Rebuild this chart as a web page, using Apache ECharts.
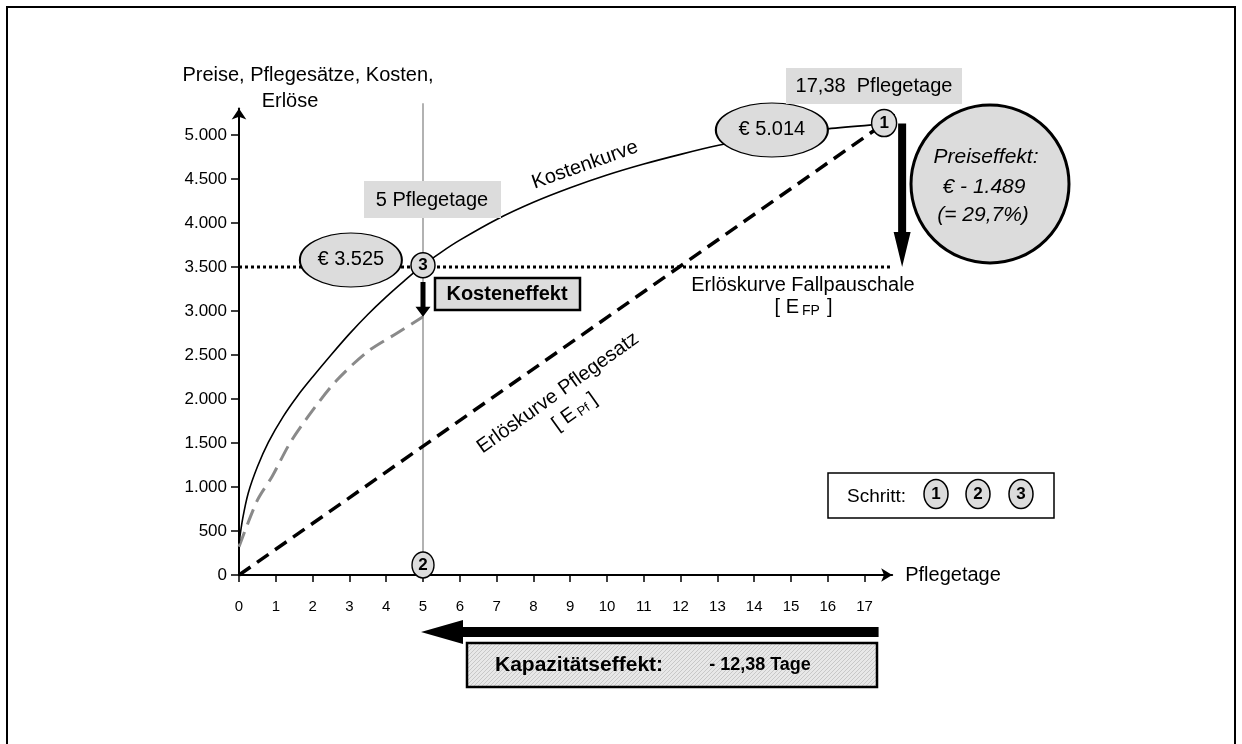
<!DOCTYPE html>
<html><head><meta charset="utf-8">
<script src="https://cdn.jsdelivr.net/npm/echarts@6/dist/echarts.min.js"></script>
<style>html,body{margin:0;padding:0;background:#fff}#c{width:1242px;height:744px}</style>
</head><body><div id="c"></div>
<script>
// ---- data ----
const xTicks = [0,1,2,3,4,5,6,7,8,9,10,11,12,13,14,15,16,17];
const yTicks = [0,500,1000,1500,2000,2500,3000,3500,4000,4500,5000];
const kostenDays   = [0, 0.1, 0.25, 0.5, 0.8, 1.2, 1.6, 2.0, 2.5, 3.0, 3.5, 4.0, 4.5, 5.0, 5.5, 6.0, 7.0, 8.0, 9.0, 10.0, 11.0, 12.0, 13.0, 14.0, 15.0, 16.0, 17.2];
const kostenValues = [360, 640, 930, 1230, 1510, 1800, 2040, 2250, 2500, 2740, 2960, 3160, 3345, 3520, 3670, 3805, 4040, 4235, 4400, 4545, 4670, 4780, 4880, 4960, 5020, 5070, 5115];
const kostenNeuDays   = [0, 0.5, 0.9, 1.4, 2.0, 2.65, 3.5, 4.3, 5.0];
const kostenNeuValues = [320, 850, 1120, 1510, 1870, 2210, 2540, 2750, 2935];
const erloesPfDays   = [0, 18.3];
const erloesPfValues = [0, 5356];
const fallpauschaleValue = 3500;
const fallpauschaleDays = [0, 17.75];
const pflegetageLineDay = 5;
const pflegetageLineValues = [0, 5360];
const schrittLabels = ['1', '2', '3'];
const schrittDays   = [17.53, 5, 5];
const schrittValues = [5136, 114, 3520];
const ellipseLabels = ['€ 3.525', '€ 5.014'];
const ellipseDays   = [3.04, 14.48];
const ellipseValues = [3580, 5057];

// ---- helpers ----
const FONT = "'Liberation Sans', Arial, Helvetica, sans-serif";
const fmt = v => String(v).replace(/\B(?=(\d{3})+(?!\d))/g, '.');
const zip = (a, b) => a.map((v, i) => [v, b[i]]);
const GREY = '#dcdcdc';

const chart = echarts.init(document.getElementById('c'), null, {renderer: 'canvas'});

// hatch pattern
const pc = document.createElement('canvas');
pc.width = 4; pc.height = 4;
const pctx = pc.getContext('2d');
pctx.fillStyle = '#e8e8e8'; pctx.fillRect(0, 0, 4, 4);
pctx.strokeStyle = '#c8c8c8'; pctx.lineWidth = 1;
pctx.beginPath(); pctx.moveTo(0, 4); pctx.lineTo(4, 0); pctx.stroke();

const option = {
  animation: false,
  backgroundColor: '#fff',
  grid: {left: 239, right: 349.8, top: 108.6, bottom: 169, containLabel: false},
  xAxis: {
    type: 'value', min: 0, max: 17.75,
    axisLine: {show: true, lineStyle: {color: '#000', width: 2}, symbol: ['none', 'arrow'], symbolSize: [10, 11]},
    axisTick: {show: true, length: 7, lineStyle: {color: '#000', width: 1.5}, customValues: xTicks},
    axisLabel: {show: true, margin: 24, fontSize: 15, color: '#000', fontFamily: FONT, customValues: xTicks},
    splitLine: {show: false},
    name: 'Pflegetage', nameLocation: 'end', nameGap: 13,
    nameTextStyle: {fontSize: 20, color: '#000', fontFamily: FONT, align: 'left', verticalAlign: 'middle'}
  },
  yAxis: {
    type: 'value', min: 0, max: 5300,
    axisLine: {show: true, lineStyle: {color: '#000', width: 2}, symbol: ['none', 'arrow'], symbolSize: [11, 11]},
    axisTick: {show: true, length: 8, lineStyle: {color: '#000', width: 1.5}, customValues: yTicks},
    axisLabel: {show: true, margin: 12, fontSize: 17, color: '#000', fontFamily: FONT, customValues: yTicks, formatter: v => fmt(v)},
    splitLine: {show: false}
  },
  series: [
    {name: 'Pflegetage-Linie', type: 'line', data: pflegetageLineValues.map(v => [pflegetageLineDay, v]), symbol: 'none', clip: false,
      lineStyle: {color: '#999', width: 1.5}, z: 1},
    {name: 'Fallpauschale', type: 'line', data: fallpauschaleDays.map(d => [d, fallpauschaleValue]), symbol: 'none',
      lineStyle: {color: '#000', width: 3, type: [3, 3]}, z: 2},
    {name: 'Erlöskurve Pflegesatz', type: 'line', data: zip(erloesPfDays, erloesPfValues), symbol: 'none', clip: false,
      lineStyle: {color: '#000', width: 3.5, type: [14, 8]}, z: 2},
    {name: 'Kosten neu', type: 'line', data: zip(kostenNeuDays, kostenNeuValues), symbol: 'none', smooth: 0.3,
      lineStyle: {color: '#8a8a8a', width: 3, type: [16, 8]}, z: 2},
    {name: 'Kostenkurve', type: 'line', data: zip(kostenDays, kostenValues), symbol: 'none', smooth: 0.3,
      lineStyle: {color: '#000', width: 1.6}, z: 3},
    {name: 'Werte', type: 'scatter', z: 5, symbol: 'circle',
      data: ellipseLabels.map((l, i) => ({value: [ellipseDays[i], ellipseValues[i]], name: l, symbolSize: i === 0 ? [102, 54] : [112, 54]})),
      itemStyle: {color: GREY, borderColor: '#000', borderWidth: 1.5, opacity: 1},
      label: {show: true, position: 'inside', formatter: p => p.name, color: '#000', fontSize: 20, fontFamily: FONT}},
    {name: 'Schritte', type: 'scatter', z: 6, symbol: 'circle',
      data: schrittLabels.map((l, i) => ({value: [schrittDays[i], schrittValues[i]], name: l, symbolSize: i === 0 ? [25, 27] : (i === 1 ? [22, 26] : [24, 25])})),
      itemStyle: {color: GREY, borderColor: '#000', borderWidth: 1.5, opacity: 1},
      label: {show: true, position: 'inside', formatter: p => p.name, color: '#000', fontSize: 17, fontWeight: 'bold', fontFamily: FONT}}
  ]
};
chart.setOption(option);

const P = (d, v) => chart.convertToPixel({gridIndex: 0}, [d, v]);

function downArrow(x, y1, y2, sw, hw, hl) {
  return [[x - sw/2, y1], [x + sw/2, y1], [x + sw/2, y2 - hl], [x + hw/2, y2 - hl], [x, y2], [x - hw/2, y2 - hl], [x - sw/2, y2 - hl]];
}
function leftArrow(xR, xT, y, sw, hh, hl) {
  return [[xR, y - sw/2], [xR, y + sw/2], [xT + hl, y + sw/2], [xT + hl, y + hh/2], [xT, y], [xT + hl, y - hh/2], [xT + hl, y - sw/2]];
}
const txt = (x, y, text, extra, z, rotation) => ({type: 'text', x, y, z: z || 100, rotation: rotation || 0,
  style: Object.assign({text, fill: '#000', font: '20px ' + FONT, align: 'center', verticalAlign: 'middle'}, extra || {})});

const k1 = P(5, 3330), k2 = P(5, 2935);
const p1 = P(18.02, 5130), p2 = P(18.02, 3500);
const c1 = P(17.38, 0), c2 = P(5, 0);

const graphic = [
  {type: 'rect', z: 0, shape: {x: 7, y: 7, width: 1228, height: 800}, style: {fill: 'none', stroke: '#000', lineWidth: 2}},
  txt(308, 75, 'Preise, Pflegesätze, Kosten,'),
  txt(290, 101, 'Erlöse'),
  // 5 Pflegetage
  {type: 'rect', z: 90, shape: {x: 364, y: 181, width: 137, height: 37}, style: {fill: GREY}},
  txt(432, 200, '5 Pflegetage'),
  // 17,38 Pflegetage
  {type: 'rect', z: 90, shape: {x: 786, y: 68, width: 176, height: 36}, style: {fill: GREY}},
  txt(874, 86, '17,38  Pflegetage'),
  // Kostenkurve label
  txt(585, 165, 'Kostenkurve', {font: '20px ' + FONT}, 100, 0.34),
  // Erlöskurve Pflegesatz
  {type: 'group', x: 558, y: 393, rotation: 0.62, z: 100, children: [
    {type: 'text', x: 0, y: 0, z: 100, style: {text: 'Erlöskurve Pflegesatz', fill: '#000', font: '20px ' + FONT, align: 'center', verticalAlign: 'middle'}},
    {type: 'text', x: 2, y: 25, z: 100, style: {text: '[ E', fill: '#000', font: '20px ' + FONT, align: 'right', verticalAlign: 'middle'}},
    {type: 'text', x: 5, y: 29, z: 100, style: {text: 'Pf', fill: '#000', font: '13px ' + FONT, align: 'left', verticalAlign: 'middle'}},
    {type: 'text', x: 22, y: 25, z: 100, style: {text: ']', fill: '#000', font: '20px ' + FONT, align: 'left', verticalAlign: 'middle'}}
  ]},
  // Erlöskurve Fallpauschale
  txt(803, 285, 'Erlöskurve Fallpauschale'),
  {type: 'group', x: 805, y: 307, z: 100, children: [
    {type: 'text', x: -6, y: 0, z: 100, style: {text: '[ E', fill: '#000', font: '20px ' + FONT, align: 'right', verticalAlign: 'middle'}},
    {type: 'text', x: -3, y: 4, z: 100, style: {text: 'FP', fill: '#000', font: '14px ' + FONT, align: 'left', verticalAlign: 'middle'}},
    {type: 'text', x: 22, y: 0, z: 100, style: {text: ']', fill: '#000', font: '20px ' + FONT, align: 'left', verticalAlign: 'middle'}}
  ]},
  // Kosteneffekt
  {type: 'polygon', z: 100, shape: {points: downArrow(k1[0], k1[1], k2[1], 5, 15, 10)}, style: {fill: '#000'}},
  {type: 'rect', z: 100, shape: {x: 435, y: 278, width: 145, height: 32}, style: {fill: GREY, stroke: '#000', lineWidth: 2.5}},
  txt(507, 294, 'Kosteneffekt', {font: 'bold 20px ' + FONT}, 101),
  // Preiseffekt
  {type: 'polygon', z: 100, shape: {points: downArrow(p1[0], p1[1], p2[1], 8, 17, 35)}, style: {fill: '#000'}},
  {type: 'circle', z: 95, shape: {cx: 990, cy: 184, r: 79}, style: {fill: GREY, stroke: '#000', lineWidth: 3}},
  txt(986, 157, 'Preiseffekt:', {font: 'italic 21px ' + FONT}),
  txt(984, 187, '€ - 1.489', {font: 'italic 21px ' + FONT}),
  txt(983, 215, '(= 29,7%)', {font: 'italic 21px ' + FONT}),
  // Schritt legend
  {type: 'rect', z: 100, shape: {x: 828, y: 473, width: 226, height: 45}, style: {fill: '#fff', stroke: '#000', lineWidth: 1.5}},
  txt(847, 497, 'Schritt:', {align: 'left', font: '19px ' + FONT}, 101),
  ...[[936, '1'], [978, '2'], [1021, '3']].flatMap(([x, t]) => [
    {type: 'ellipse', z: 101, shape: {cx: x, cy: 494, rx: 12, ry: 14.5}, style: {fill: GREY, stroke: '#000', lineWidth: 1.5}},
    txt(x, 494, t, {font: 'bold 17px ' + FONT}, 103)
  ]),
  // Kapazitätseffekt
  {type: 'polygon', z: 100, shape: {points: leftArrow(c1[0], c2[0] - 2, 632, 10, 24, 42)}, style: {fill: '#000'}},
  {type: 'rect', z: 100, shape: {x: 467, y: 643, width: 410, height: 44}, style: {fill: {image: pc, repeat: 'repeat'}, stroke: '#000', lineWidth: 2.5}},
  txt(495, 665, 'Kapazitätseffekt:', {align: 'left', font: 'bold 21px ' + FONT}, 101),
  txt(760, 665, '- 12,38 Tage', {font: 'bold 18px ' + FONT}, 101)
];
chart.setOption({graphic: graphic});
</script>
</body></html>
